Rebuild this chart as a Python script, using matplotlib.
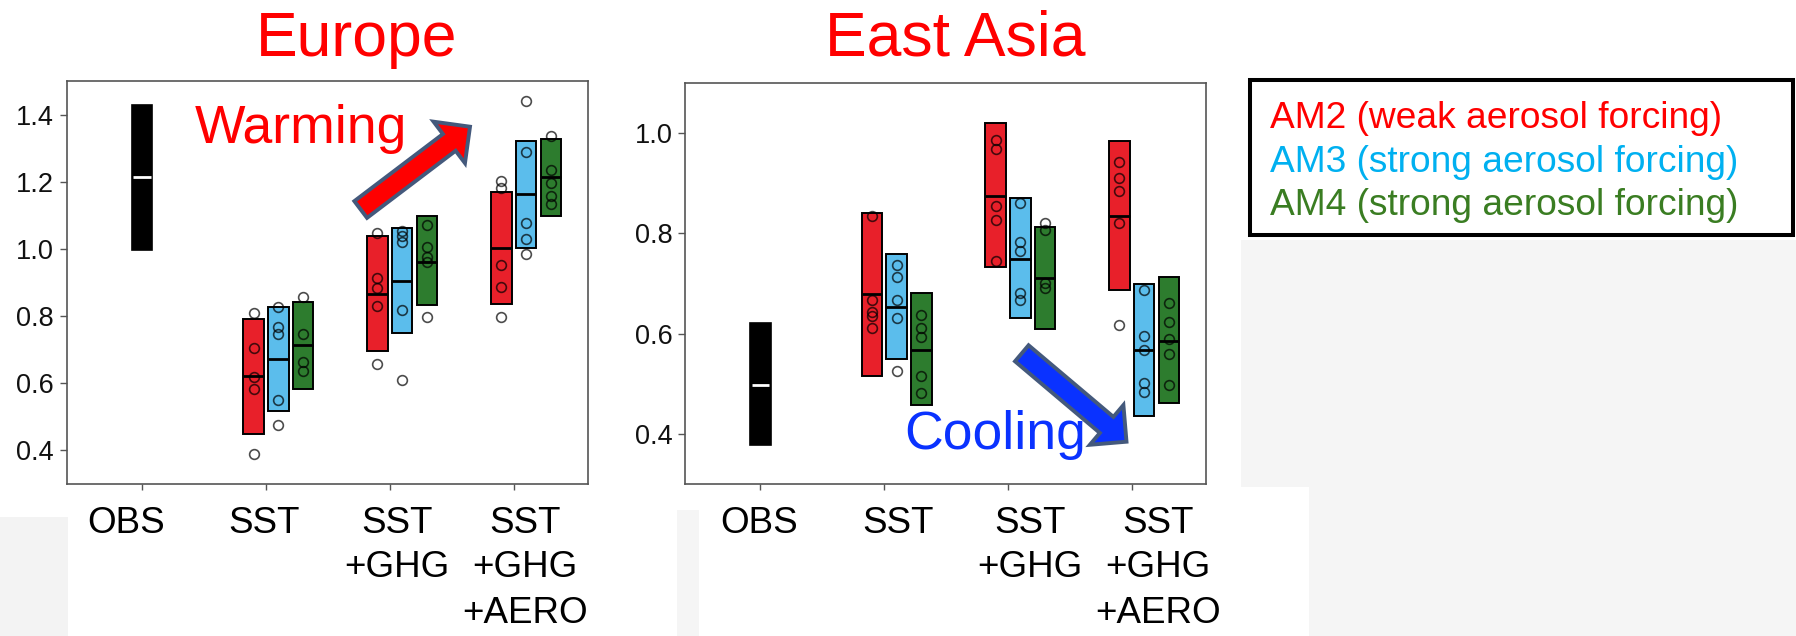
import matplotlib
matplotlib.use("Agg")
import matplotlib.pyplot as plt
import matplotlib.transforms as mtransforms
from matplotlib.patches import Rectangle, FancyArrow
import numpy as np

plt.rcParams["font.family"] = ["Liberation Sans", "DejaVu Sans"]

# ---------------- data ----------------
REGIONS = ["Europe", "East Asia"]
EXPERIMENTS = ["OBS", "SST", "SST\n+GHG", "SST\n+GHG\n+AERO"]
MODELS = ["AM2", "AM3", "AM4"]
LEGEND_LABELS = ["AM2 (weak aerosol forcing)",
                 "AM3 (strong aerosol forcing)",
                 "AM4 (strong aerosol forcing)"]
Y_TICKS_EU = [0.4, 0.6, 0.8, 1.0, 1.2, 1.4]
Y_TICKS_EA = [0.4, 0.6, 0.8, 1.0]

# Europe
EU_OBS = dict(low=0.997, high=1.43, med=1.213)
EU_AM2_LOW = [0.450, 0.695, 0.836]
EU_AM2_HIGH = [0.791, 1.037, 1.169]
EU_AM2_MED = [0.621, 0.866, 1.002]
EU_AM3_LOW = [0.516, 0.750, 1.002]
EU_AM3_HIGH = [0.827, 1.061, 1.322]
EU_AM3_MED = [0.671, 0.905, 1.163]
EU_AM4_LOW = [0.584, 0.832, 1.098]
EU_AM4_HIGH = [0.843, 1.098, 1.328]
EU_AM4_MED = [0.713, 0.962, 1.213]
EU_AM2_PTS = [[0.810, 0.705, 0.620, 0.584, 0.388],
              [1.047, 0.912, 0.883, 0.830, 0.656],
              [1.203, 1.181, 0.952, 0.888, 0.798]]
EU_AM3_PTS = [[0.826, 0.768, 0.748, 0.549, 0.475],
              [1.054, 1.037, 1.020, 0.818, 0.609],
              [1.440, 1.288, 1.077, 1.030, 0.984]]
EU_AM4_PTS = [[0.856, 0.748, 0.664, 0.636],
              [1.072, 1.007, 0.977, 0.962, 0.798],
              [1.337, 1.236, 1.196, 1.158, 1.133]]

# East Asia
EA_OBS = dict(low=0.377, high=0.620, med=0.497)
EA_AM2_LOW = [0.516, 0.733, 0.686]
EA_AM2_HIGH = [0.841, 1.019, 0.983]
EA_AM2_MED = [0.678, 0.875, 0.834]
EA_AM3_LOW = [0.549, 0.630, 0.436]
EA_AM3_HIGH = [0.758, 0.871, 0.698]
EA_AM3_MED = [0.652, 0.748, 0.567]
EA_AM4_LOW = [0.458, 0.608, 0.461]
EA_AM4_HIGH = [0.681, 0.812, 0.712]
EA_AM4_MED = [0.568, 0.710, 0.586]
EA_AM2_PTS = [[0.834, 0.666, 0.642, 0.635, 0.610],
              [0.985, 0.968, 0.855, 0.826, 0.745],
              [0.942, 0.910, 0.884, 0.820, 0.617]]
EA_AM3_PTS = [[0.736, 0.713, 0.666, 0.630, 0.525],
              [0.860, 0.783, 0.764, 0.680, 0.667],
              [0.686, 0.596, 0.568, 0.501, 0.484]]
EA_AM4_PTS = [[0.637, 0.610, 0.594, 0.515, 0.482],
              [0.820, 0.806, 0.700, 0.690],
              [0.660, 0.623, 0.590, 0.559, 0.497]]

# ---------------- styles / layout ----------------
W, H, DPI = 1796, 636, 100
BAR_COLORS = ["#e8202a", "#5bbdec", "#2d7c2e"]
TEXT_COLORS = ["#ff0000", "#00b0f0", "#3a7d22"]
MODEL_OFFSETS = [-0.1, 0.1, 0.3]
BAR_W = 0.165

fig = plt.figure(figsize=(W / DPI, H / DPI), dpi=DPI, facecolor="white")
# transform in image pixel coords (origin top-left)
img = mtransforms.Affine2D().scale(1.0 / W, -1.0 / H).translate(0, 1) + fig.transFigure

# background slide patches
for (x0, y0, x1, y1, c) in [(0, 517, 68, 636, "#f3f3f3"),
                            (677, 510, 700, 636, "#f5f5f5"),
                            (1241, 240, 1796, 636, "#f5f5f5"),
                            (699, 487, 1309, 636, "white")]:
    fig.add_artist(Rectangle((x0, y0), x1 - x0, y1 - y0, transform=img,
                             facecolor=c, edgecolor="none", zorder=-10))

panels = [
    dict(rect=[66.5 / W, 1 - 484 / H, 521.5 / W, 403 / H], ylim=(0.30, 1.50),
         yticks=Y_TICKS_EU, obs=EU_OBS,
         low=[EU_AM2_LOW, EU_AM3_LOW, EU_AM4_LOW],
         high=[EU_AM2_HIGH, EU_AM3_HIGH, EU_AM4_HIGH],
         med=[EU_AM2_MED, EU_AM3_MED, EU_AM4_MED],
         pts=[EU_AM2_PTS, EU_AM3_PTS, EU_AM4_PTS],
         title_x=356.5, label_x=[126, 264.5, 397, 525]),
    dict(rect=[685 / W, 1 - 484 / H, 521 / W, 401.3 / H], ylim=(0.30, 1.10),
         yticks=Y_TICKS_EA, obs=EA_OBS,
         low=[EA_AM2_LOW, EA_AM3_LOW, EA_AM4_LOW],
         high=[EA_AM2_HIGH, EA_AM3_HIGH, EA_AM4_HIGH],
         med=[EA_AM2_MED, EA_AM3_MED, EA_AM4_MED],
         pts=[EA_AM2_PTS, EA_AM3_PTS, EA_AM4_PTS],
         title_x=955.5, label_x=[759, 898, 1030, 1158]),
]

LABEL_BASELINES = [533, 577.3, 623]

for region, p in zip(REGIONS, panels):
    ax = fig.add_axes(p["rect"])
    ax.set_zorder(1)
    ax.set_facecolor("white")
    xs = np.arange(1, len(EXPERIMENTS) + 1)

    # OBS bar
    o = p["obs"]
    ax.bar(xs[0], o["high"] - o["low"], bottom=o["low"], width=BAR_W,
           color="black", edgecolor="black", linewidth=1.2, zorder=3)
    ax.hlines(o["med"], xs[0] - BAR_W / 2 * 0.85, xs[0] + BAR_W / 2 * 0.85,
              color="white", linewidth=2.0, zorder=4)

    # model bars
    for m in range(len(MODELS)):
        xm = xs[1:] + MODEL_OFFSETS[m]
        low = np.array(p["low"][m])
        high = np.array(p["high"][m])
        ax.bar(xm, high - low, bottom=low, width=BAR_W, color=BAR_COLORS[m],
               edgecolor="black", linewidth=1.4, zorder=3)
        ax.hlines(p["med"][m], xm - BAR_W / 2, xm + BAR_W / 2,
                  color="black", linewidth=2.0, zorder=4)
        for k, vals in enumerate(p["pts"][m]):
            ax.plot(np.full(len(vals), xm[k]), vals, "o", mfc="none",
                    mec="black", ms=7.0, mew=1.2, alpha=0.7, zorder=5)

    ax.set_xlim(0.39, 4.6)
    ax.set_ylim(*p["ylim"])
    ax.set_xticks(xs)
    ax.set_xticklabels([""] * len(xs))
    ax.set_yticks(p["yticks"])
    ax.set_yticklabels([f"{v:.1f}" for v in p["yticks"]])
    ax.tick_params(axis="y", labelsize=19.5, length=5, width=1, color="#555555",
                   pad=4, labelcolor="#111111")
    ax.tick_params(axis="x", length=4, width=1, color="#555555")
    for s in ax.spines.values():
        s.set_color("#555555")
        s.set_linewidth(1.2)

    # region title
    fig.text(p["title_x"], 56, region, transform=img, ha="center",
             va="baseline", fontsize=45, color="#ff0000", zorder=10)

    # experiment labels (drawn line by line)
    for i, lab in enumerate(EXPERIMENTS):
        for j, line in enumerate(lab.split("\n")):
            fig.text(p["label_x"][i], LABEL_BASELINES[j], line, transform=img,
                     ha="center", va="baseline", fontsize=26.5, color="black",
                     zorder=10)

# annotations: arrows and words
fig.add_artist(FancyArrow(360.7, 209.5, 109.3, -82.8, width=21,
                          head_width=52, head_length=26,
                          length_includes_head=True, transform=img,
                          facecolor="#ff0000", edgecolor="#44597c",
                          linewidth=2.8, zorder=11))
fig.add_artist(FancyArrow(1021.8, 353.3, 104.7, 88.4, width=21,
                          head_width=52, head_length=26,
                          length_includes_head=True, transform=img,
                          facecolor="#0a32ff", edgecolor="#44597c",
                          linewidth=2.8, zorder=11))
fig.text(195, 143.3, "Warming", transform=img, ha="left", va="baseline",
         fontsize=38.5, color="#ff0000", zorder=12)
fig.text(904, 449, "Cooling", transform=img, ha="left", va="baseline",
         fontsize=38.5, color="#0a32ff", zorder=12)

# legend box
fig.add_artist(Rectangle((1250, 80), 543, 155, transform=img,
                         facecolor="white", edgecolor="black",
                         linewidth=2.9, zorder=10))
for k, (lab, col) in enumerate(zip(LEGEND_LABELS, TEXT_COLORS)):
    fig.text(1270, [128.3, 171.7, 215][k], lab, transform=img, ha="left",
             va="baseline", fontsize=26.7, color=col, zorder=11)

fig.savefig("out.png", dpi=DPI, facecolor="white")
